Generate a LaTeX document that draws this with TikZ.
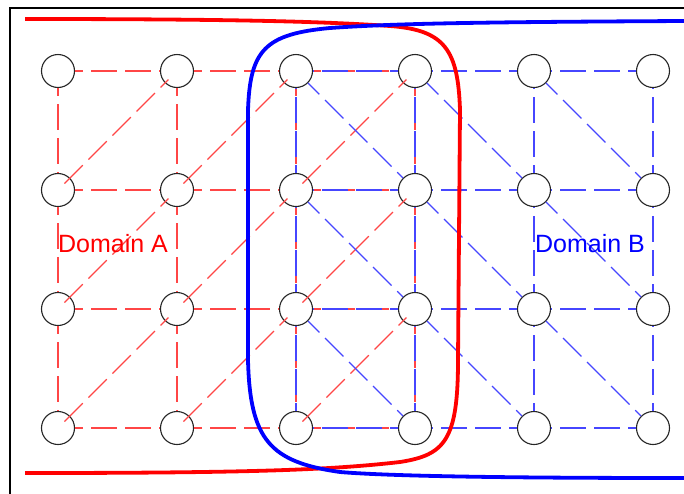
\documentclass[tikz,border=0pt]{standalone}
\usepackage{fontspec}
\setmainfont{Liberation Sans}
\definecolor{linkred}{RGB}{255,70,70}
\definecolor{linkblue}{RGB}{70,70,255}
\begin{document}
\begin{tikzpicture}[x=1pt,y=-1pt,
  gridnode/.style={circle,draw=black!85,line width=1.1pt,minimum size=33pt,inner sep=0pt,fill=white},
  redlink/.style={draw=linkred,line width=1.1pt,dash pattern=on 26pt off 8pt,dash phase=18pt},
  bluelink/.style={draw=linkblue,line width=1.1pt,dash pattern=on 26pt off 8pt,dash phase=18pt},
  reddiag/.style={redlink,shorten <=-8pt,shorten >=-5pt,dash phase=0pt},
  bluediag/.style={bluelink,dash phase=10pt},
  redbound/.style={draw=red,line width=3.8pt},
  bluebound/.style={draw=blue,line width=3.8pt},
  domainlabel/.style={font=\fontsize{25}{28}\selectfont,anchor=base,inner sep=0pt}
]
\useasboundingbox (0,0) rectangle (684,493);
% outer frame
\draw[line width=2pt] (10,8) rectangle (720,530);

% mesh nodes
\foreach \ci in {0,...,5}{
  \foreach \rj in {0,...,3}{
    \node[gridnode] (n-\ci-\rj) at ({58+119*\ci},{71+119*\rj}) {};
  }
}

% domain A links
\foreach \ci in {0,1,2}{
  \foreach \rj in {0,...,3}{
    \pgfmathtruncatemacro{\cn}{\ci+1}
    \draw[redlink] (n-\ci-\rj) -- (n-\cn-\rj);
  }
}
\foreach \ci in {0,...,3}{
  \foreach \rj in {0,1,2}{
    \pgfmathtruncatemacro{\rn}{\rj+1}
    \draw[redlink] (n-\ci-\rj) -- (n-\ci-\rn);
  }
}
\foreach \ci in {0,1,2}{
  \foreach \rj in {0,1,2}{
    \pgfmathtruncatemacro{\cn}{\ci+1}
    \pgfmathtruncatemacro{\rn}{\rj+1}
    \draw[reddiag] (n-\ci-\rn) -- (n-\cn-\rj);
  }
}

% domain B links
\foreach \ci in {2,3,4}{
  \foreach \rj in {0,...,3}{
    \pgfmathtruncatemacro{\cn}{\ci+1}
    \draw[bluelink] (n-\cn-\rj) -- (n-\ci-\rj);
  }
}
\foreach \ci in {2,...,5}{
  \foreach \rj in {0,1,2}{
    \pgfmathtruncatemacro{\rn}{\rj+1}
    \draw[bluelink] (n-\ci-\rn) -- (n-\ci-\rj);
  }
}
\foreach \ci in {2,3,4}{
  \foreach \rj in {0,1,2}{
    \pgfmathtruncatemacro{\cn}{\ci+1}
    \pgfmathtruncatemacro{\rn}{\rj+1}
    \draw[bluediag] (n-\ci-\rj) -- (n-\cn-\rn);
  }
}

% domain boundaries
\draw[redbound] (25,19) .. controls (250,19) and (330,22) .. (390,26)
  .. controls (445,30) and (458,50) .. (460,110) -- (458,360)
  .. controls (458,440) and (445,455) .. (400,462)
  .. controls (330,470) and (250,473) .. (25,473);
\draw[bluebound] (684,21) .. controls (500,22) and (400,23) .. (330,28)
  .. controls (265,34) and (250,50) .. (248,110) -- (248,360)
  .. controls (250,440) and (270,462) .. (340,472)
  .. controls (400,477) and (550,478) .. (684,478);

% labels
\node[domainlabel,text=red] (labA) at (113,252) {Domain A};
\node[domainlabel,text=blue] (labB) at (590,252) {Domain B};
\end{tikzpicture}
\end{document}
